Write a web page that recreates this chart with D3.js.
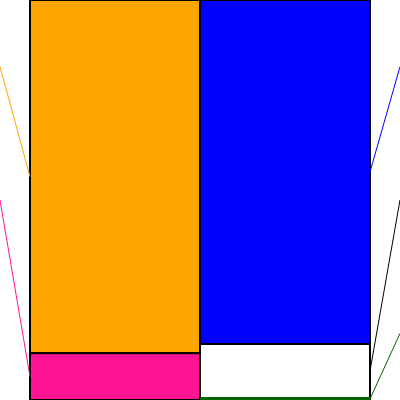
<!DOCTYPE html>
<html>
<head>
<meta charset="utf-8">
<script src="https://cdn.jsdelivr.net/npm/d3@7"></script>
<style>
html,body{margin:0;padding:0;background:#fff;}
svg{display:block;}
</style>
</head>
<body>
<script>
// Columns and stacked segment values (percent, bottom to top)
const columns = ["A", "B"];
const leftSegments = ["pink", "orange"];
const leftValues = [11.7, 88.3];
const rightSegments = ["green", "white", "blue"];
const rightValues = [0.5, 13.5, 86];
const segmentColors = {orange: "orange", pink: "deeppink", blue: "blue", white: "white", green: "darkgreen"};
const lineColors = {orange: "orange", pink: "deeppink", blue: "blue", white: "black", green: "darkgreen"};
// label order top-to-bottom on each side
const leftLabelOrder = ["orange", "pink"];
const rightLabelOrder = ["blue", "white", "green"];

const W = 400, H = 400;
const svg = d3.select("body").append("svg").attr("width", W).attr("height", H);

const x = d3.scaleBand().domain(columns).range([30, 370]).paddingInner(0).paddingOuter(0);
const y = d3.scaleLinear().domain([0, 100]).range([400, 0]);
const labelY = d3.scalePoint().domain([0, 1, 2]).range([0, 400]).padding(0.5);

function stackCol(names, vals) {
  let acc = 0;
  return names.map((n, i) => {
    const d = {name: n, y0: acc, y1: acc + vals[i]};
    acc += vals[i];
    return d;
  });
}
const cols = [
  {col: "A", segs: stackCol(leftSegments, leftValues)},
  {col: "B", segs: stackCol(rightSegments, rightValues)}
];

cols.forEach(c => {
  svg.append("g").selectAll("rect").data(c.segs.slice().reverse()).join("rect")
    .attr("x", x(c.col))
    .attr("width", x.bandwidth())
    .attr("y", d => y(d.y1))
    .attr("height", d => y(d.y0) - y(d.y1))
    .attr("fill", d => segmentColors[d.name])
    .attr("stroke", "black")
    .attr("stroke-width", 2);
});
// tiny green segment drawn over the border
const greenSeg = cols[1].segs[0];
svg.append("rect")
  .attr("x", x("B") + 1)
  .attr("width", x.bandwidth() - 2)
  .attr("y", y(greenSeg.y1))
  .attr("height", y(greenSeg.y0) - y(greenSeg.y1))
  .attr("fill", segmentColors.green)
  .attr("stroke", segmentColors.green)
  .attr("stroke-width", 2);

// leader lines
const leftG = svg.append("g");
leftLabelOrder.forEach((n, i) => {
  const s = cols[0].segs.find(d => d.name === n);
  leftG.append("line")
    .attr("x1", 0).attr("y1", labelY(i))
    .attr("x2", x("A")).attr("y2", y((s.y0 + s.y1) / 2))
    .attr("stroke", lineColors[n]).attr("stroke-width", 1);
});
const rightG = svg.append("g");
rightLabelOrder.forEach((n, i) => {
  const s = cols[1].segs.find(d => d.name === n);
  rightG.append("line")
    .attr("x1", 400).attr("y1", labelY(i))
    .attr("x2", x("B") + x.bandwidth()).attr("y2", y((s.y0 + s.y1) / 2))
    .attr("stroke", lineColors[n]).attr("stroke-width", 1);
});
</script>
</body>
</html>
